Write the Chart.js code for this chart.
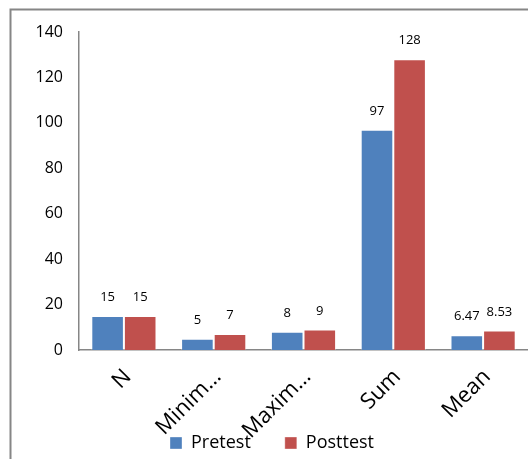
<!DOCTYPE html>
<html>
<head>
<meta charset="utf-8">
<script src="https://cdn.jsdelivr.net/npm/chart.js@4/dist/chart.umd.min.js"></script>
<style>
  html, body { margin: 0; padding: 0; background: #fff; overflow: hidden; }
  canvas { display: block; }
</style>
</head>
<body>
<canvas id="c" width="528" height="459"></canvas>
<script>
// Descriptive statistics, pretest vs posttest
const categories = ['N', 'Minim…', 'Maxim…', 'Sum', 'Mean'];
const pretest = [15, 5, 8, 97, 6.47];
const posttest = [15, 7, 9, 128, 8.53];
const yTicks = { min: 0, max: 140, step: 20 };

const FONT = "'Open Sans', 'Liberation Sans', sans-serif";
const AXIS_GREY = '#868686';
const LEGEND_PAD = 34;      // spacing between legend entries
const LABEL_BAND = 92;      // height reserved for the slanted category names
const LEGEND_OVERLAP = 42;  // legend sits inside the lower part of that band

// Grey frame around the whole chart area
const framePlugin = {
  id: 'frame',
  beforeDraw(chart) {
    const ctx = chart.ctx;
    ctx.save();
    ctx.fillStyle = '#fff';
    ctx.fillRect(0, 0, chart.width, chart.height);
    ctx.strokeStyle = AXIS_GREY;
    ctx.lineWidth = 2;
    ctx.strokeRect(10.5, 9.5, 1000, 1000);
    ctx.restore();
  }
};

// Pull the legend up alongside the tail of the slanted category labels
const legendNudge = {
  id: 'legendNudge',
  afterLayout(chart) {
    const lg = chart.legend;
    if (!lg) return;
    lg.top = chart.scales.x.bottom - LEGEND_OVERLAP;
    lg.bottom = chart.height;
    lg.height = lg.bottom - lg.top;
  }
};

// Value labels above each bar
const valueLabels = {
  id: 'valueLabels',
  afterDatasetsDraw(chart) {
    const ctx = chart.ctx;
    ctx.save();
    ctx.font = `13px ${FONT}`;
    ctx.fillStyle = '#000';
    ctx.textAlign = 'center';
    ctx.textBaseline = 'alphabetic';
    chart.data.datasets.forEach((ds, i) => {
      chart.getDatasetMeta(i).data.forEach((bar, j) => {
        ctx.fillText(String(ds.data[j]), bar.x, bar.y - 15);
      });
    });
    ctx.restore();
  }
};

new Chart(document.getElementById('c'), {
  type: 'bar',
  data: {
    labels: categories,
    datasets: [
      { label: 'Pretest', data: pretest, backgroundColor: '#4F81BD',
        borderColor: 'rgba(255,255,255,0.35)', borderWidth: 1 },
      { label: 'Posttest', data: posttest, backgroundColor: '#C0504D',
        borderColor: 'rgba(255,255,255,0.35)', borderWidth: 1 }
    ]
  },
  options: {
    responsive: false,
    animation: false,
    devicePixelRatio: 1,
    layout: { padding: { top: 32, left: 16, right: 0, bottom: 0 } },
    datasets: { bar: { categoryPercentage: 0.726, barPercentage: 1 } },
    plugins: {
      legend: {
        position: 'bottom',
        maxHeight: 17,
        labels: {
          font: { family: FONT, size: 18 },
          color: '#000',
          boxWidth: 12,
          boxHeight: 12,
          padding: LEGEND_PAD
        }
      },
      tooltip: { enabled: false }
    },
    scales: {
      x: {
        grid: { display: false, drawTicks: false },
        border: { color: AXIS_GREY, width: 1.5 },
        ticks: {
          font: { family: FONT, size: 22 },
          color: '#000',
          minRotation: 45,
          maxRotation: 45,
          autoSkip: false,
          padding: 14,
          labelOffset: 4
        },
        afterFit(scale) { scale.height = LABEL_BAND; }
      },
      y: {
        min: yTicks.min,
        max: yTicks.max,
        grid: { display: false, drawTicks: false },
        border: { color: AXIS_GREY, width: 1.5 },
        ticks: {
          stepSize: yTicks.step,
          font: { family: FONT, size: 16 },
          color: '#000',
          padding: 16
        },
        afterFit(scale) { scale.width = 63; }
      }
    }
  },
  plugins: [framePlugin, legendNudge, valueLabels]
});
</script>
</body>
</html>
